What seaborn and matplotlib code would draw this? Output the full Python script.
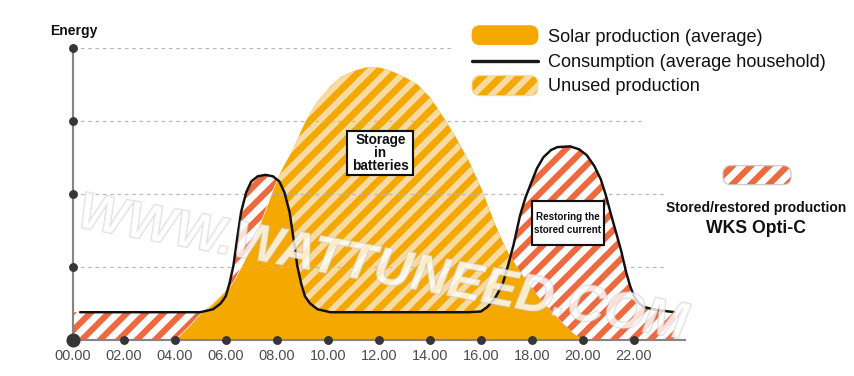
import numpy as np
import pandas as pd
import matplotlib
matplotlib.use('Agg')
import matplotlib.pyplot as plt
import matplotlib.patheffects as pe
from matplotlib import font_manager
from matplotlib.lines import Line2D
from matplotlib.patches import FancyBboxPatch, Rectangle
from matplotlib.transforms import IdentityTransform
import seaborn as sns

# values (hour of day -> energy level)
hours = [0, 0.29, 1, 2, 3, 4, 4.5, 5, 5.5, 5.8,
         6.0, 6.15, 6.3, 6.45, 6.6, 6.8, 7.0, 7.25, 7.55, 7.85,
         8.1, 8.3, 8.5, 8.65, 8.8, 8.95, 9.1, 9.3, 9.6, 10.1,
         10.5, 11, 11.5, 12, 12.5, 13, 13.5, 14, 14.5, 15,
         15.5, 16.0, 16.25, 16.55, 16.85, 17.05, 17.28, 17.54, 17.75, 17.95,
         18.2, 18.45, 18.75, 19.0, 19.5, 19.85, 20.15, 20.45, 20.7, 20.9,
         21.1, 21.3, 21.5, 21.7, 21.85, 22.0, 22.2, 22.4, 22.9, 23.6]

solar = [0, 0, 0, 0, 0, 0, 0.17, 0.36, 0.5, 0.6,
         0.67, 0.73, 0.8, 0.9, 1.0, 1.14, 1.3, 1.5, 1.78, 2.06,
         2.26, 2.4, 2.52, 2.62, 2.74, 2.86, 2.97, 3.1, 3.27, 3.47,
         3.6, 3.68, 3.73, 3.73, 3.68, 3.6, 3.5, 3.32, 3.06, 2.78,
         2.46, 2.08, 1.85, 1.58, 1.34, 1.2, 1.08, 0.93, 0.84, 0.74,
         0.62, 0.52, 0.4, 0.31, 0.13, 0.03, 0, 0, 0, 0,
         0, 0, 0, 0, 0, 0, 0, 0, 0, 0]

consumption = [0.38, 0.38, 0.38, 0.38, 0.38, 0.38, 0.38, 0.38, 0.42, 0.5,
               0.6, 0.78, 1.02, 1.4, 1.75, 2.02, 2.17, 2.24, 2.26, 2.24,
               2.17, 2.02, 1.75, 1.4, 1.02, 0.78, 0.6, 0.5, 0.42, 0.38,
               0.38, 0.38, 0.38, 0.38, 0.38, 0.38, 0.38, 0.38, 0.38, 0.38,
               0.38, 0.39, 0.45, 0.57, 0.76, 1.0, 1.3, 1.71, 1.95, 2.13,
               2.35, 2.5, 2.6, 2.64, 2.65, 2.61, 2.53, 2.38, 2.2, 1.98,
               1.72, 1.47, 1.22, 0.92, 0.74, 0.6, 0.5, 0.45, 0.41, 0.38]

tick_hours = list(range(0, 24, 2))
tick_labels = ['%02d.00' % t for t in tick_hours]
grid_levels = [1, 2, 3, 4]
grid_ends = [23.2, 23.2, 22.4, 14.9]

ORANGE = '#F4A800'
ORANGE_LIGHT = '#F8DAA3'
RED = '#EE6A3E'
DOT = '#363636'
AXIS = '#858585'

sns.set_style('white')
plt.rcParams['font.family'] = ['Liberation Sans', 'DejaVu Sans']
plt.rcParams['hatch.linewidth'] = 4.0

names = {f.name for f in font_manager.fontManager.ttflist}
narrow = next((n for n in ['Liberation Sans Narrow', 'DejaVu Sans Condensed']
               if n in names), 'Liberation Sans')

DPI = 110
W, H = 854, 376
fig = plt.figure(figsize=(854.3 / DPI, 376.3 / DPI), dpi=DPI)
HD = fig.bbox.height


def fx(x, y):
    return x / W, 1 - y / H


ax = fig.add_axes([72.7 / W, 36 / H, 612 / W, 292 / H])
ax.set_xlim(0, 24)
ax.set_ylim(0, 4)

df = pd.DataFrame({'hour': hours, 'solar': solar, 'consumption': consumption})
h = df['hour'].to_numpy()
s = df['solar'].to_numpy()
c = df['consumption'].to_numpy()

ax.fill_between(h, 0, s, color=ORANGE, lw=0, zorder=1)
ax.fill_between(h, c, s, where=s > c, interpolate=True, facecolor=ORANGE,
                edgecolor=ORANGE_LIGHT, hatch='//', lw=0, zorder=2)
for lvl, end in zip(grid_levels, grid_ends):
    ax.plot([0, end], [lvl, lvl], ls=(0, (3, 3)), color='#b8b8b8', lw=0.8, zorder=3)
ax.fill_between(h, s, c, where=c > s, interpolate=True, facecolor='white',
                edgecolor=RED, hatch='//', lw=0, zorder=4)
sns.lineplot(x=h[1:], y=c[1:], color='#111111', lw=1.6, ax=ax, zorder=6)

for side in ['top', 'right']:
    ax.spines[side].set_visible(False)
for side in ['left', 'bottom']:
    ax.spines[side].set_color(AXIS)
    ax.spines[side].set_linewidth(1.4)
    ax.spines[side].set_zorder(7)

tick_size = 10.3 if narrow != 'Liberation Sans' else 9.5
ax.set_xticks(tick_hours, tick_labels, fontfamily=narrow)
ax.set_yticks([])
ax.tick_params(axis='x', length=0, pad=6, labelsize=tick_size, labelcolor='#4d4d4d')
ax.set_xlabel('')
ax.set_ylabel('')

ax.scatter(tick_hours[1:], [0] * (len(tick_hours) - 1), s=34, color=DOT, lw=0,
           zorder=8, clip_on=False)
ax.scatter([0] * len(grid_levels), grid_levels, s=34, color=DOT, lw=0,
           zorder=8, clip_on=False)
ax.scatter([0], [0], s=85, color=DOT, lw=0, zorder=9, clip_on=False)

# watermark
fig.text(*fx(380, 283), 'WWW.WATTUNEED.COM', fontsize=34, fontweight='bold',
         fontstyle='italic', family=[narrow, 'Liberation Sans'], color='white',
         alpha=0.55, rotation=-10.5, rotation_mode='anchor', ha='center',
         va='baseline', zorder=1,
         path_effects=[pe.withStroke(linewidth=1.2, foreground='#c8c8c8')])

fig.text(*fx(73.5, 35), 'Energy', fontsize=9.1, fontweight='bold', ha='center',
         va='baseline', color='#111111')

# legend
fig.add_artist(FancyBboxPatch((472, HD - 45), 66, 19, boxstyle='round,pad=0,rounding_size=8',
                              transform=IdentityTransform(), facecolor=ORANGE,
                              edgecolor=ORANGE, lw=0.5, zorder=5))
fig.add_artist(Line2D([472 / W, 538 / W], [1 - 61 / H] * 2, transform=fig.transFigure,
                      color='#1a1a1a', lw=2.2, zorder=5))
fig.add_artist(FancyBboxPatch((472, HD - 96), 66, 20, boxstyle='round,pad=0,rounding_size=8',
                              transform=IdentityTransform(), facecolor=ORANGE,
                              edgecolor=ORANGE_LIGHT, hatch='//', lw=0.6, zorder=5))
legend_texts = ['Solar production (average)', 'Consumption (average household)',
                'Unused production']
for txt, yb in zip(legend_texts, [42.3, 66.7, 91]):
    fig.text(*fx(548, yb), txt, fontsize=11.9, ha='left', va='baseline',
             color='#111111', zorder=6)

# stored / restored swatch
fig.add_artist(FancyBboxPatch((723, HD - 185), 68, 19, boxstyle='round,pad=0,rounding_size=8',
                              transform=IdentityTransform(), facecolor='white',
                              edgecolor=RED, hatch='//', lw=0, zorder=5))
fig.add_artist(FancyBboxPatch((723, HD - 185), 68, 19, boxstyle='round,pad=0,rounding_size=8',
                              transform=IdentityTransform(), facecolor='none',
                              edgecolor='#c4c4c4', lw=0.7, zorder=5))
fig.text(*fx(756, 211.5), 'Stored/restored production', fontsize=9.1,
         fontweight='bold', ha='center', va='baseline', color='#111111', zorder=6)
fig.text(*fx(756, 232.5), 'WKS Opti-C', fontsize=11.5, fontweight='bold',
         ha='center', va='baseline', color='#111111', zorder=6)

# boxes on the chart (multi-line text: baseline refers to the last line)
fig.add_artist(Rectangle(fx(347.3, 175), 66 / W, 44 / H, transform=fig.transFigure,
                         facecolor='white', edgecolor='#111111', lw=1.4, zorder=5))
fig.text(*fx(380.3, 170), 'Storage\nin\nbatteries', fontsize=8.9, fontweight='bold',
         ha='center', va='baseline', multialignment='center', linespacing=0.9,
         color='#111111', zorder=6)

fig.add_artist(Rectangle(fx(531.7, 245), 72.3 / W, 44.3 / H, transform=fig.transFigure,
                         facecolor='white', edgecolor='#111111', lw=1.4, zorder=5))
fig.text(*fx(567.8, 232.7), 'Restoring the\nstored current', fontsize=6.5,
         fontweight='bold', ha='center', va='baseline', multialignment='center',
         linespacing=1.36, color='#111111', zorder=6)

fig.savefig('out.png', dpi=DPI)
